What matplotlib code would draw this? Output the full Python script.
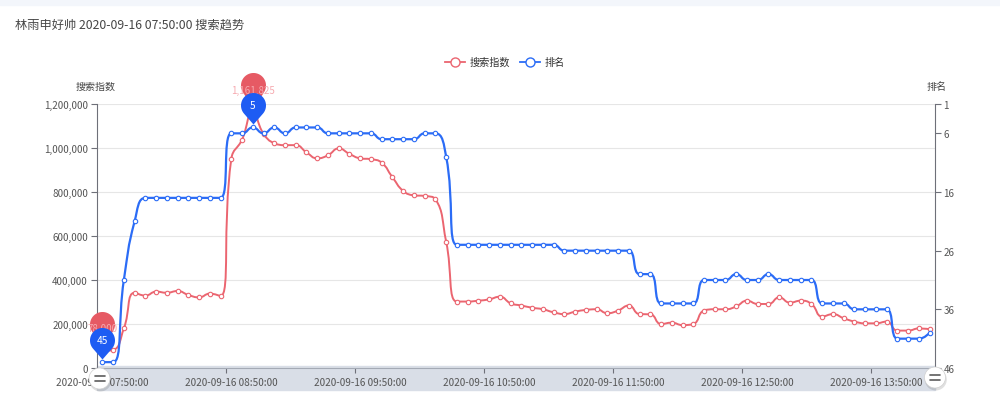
import numpy as np
import pandas as pd
import matplotlib
matplotlib.use("Agg")
import matplotlib.pyplot as plt
from matplotlib.path import Path
from matplotlib.patches import PathPatch, Rectangle, Circle
from matplotlib.lines import Line2D
from matplotlib.ticker import FuncFormatter

plt.rcParams['font.family'] = ['Noto Sans CJK SC', 'DejaVu Sans']

# ---------------- data ----------------
title = "林雨申好帅 2020-09-16 07:50:00 搜索趋势"
series_names = ["搜索指数", "排名"]
times = pd.date_range("2020-09-16 07:50:00", periods=78, freq="5min").strftime("%Y-%m-%d %H:%M:%S").tolist()

search_index = [
    78000, 82000, 180000, 342000, 329000, 347000, 342000, 350000, 332000, 321000,
    338000, 327000, 950000, 1038000, 1161825, 1065000, 1022000, 1013000, 1013000, 980000,
    953000, 967000, 998000, 973000, 953000, 949000, 933000, 867000, 805000, 785000,
    782000, 767000, 574000, 302000, 302000, 306000, 312000, 324000, 294000, 284000,
    274000, 267000, 253000, 245000, 256000, 264000, 267000, 249000, 261000, 284000,
    245000, 244000, 200000, 206000, 195000, 200000, 261000, 267000, 267000, 280000,
    306000, 291000, 291000, 321000, 297000, 306000, 291000, 234000, 245000, 226000,
    211000, 203000, 203000, 211000, 170000, 170000, 180000, 176000,
]
rank = [
    45, 45, 31, 21, 17, 17, 17, 17, 17, 17,
    17, 17, 6, 6, 5, 6, 5, 6, 5, 5,
    5, 6, 6, 6, 6, 6, 7, 7, 7, 7,
    6, 6, 10, 25, 25, 25, 25, 25, 25, 25,
    25, 25, 25, 26, 26, 26, 26, 26, 26, 26,
    30, 30, 35, 35, 35, 35, 31, 31, 31, 30,
    31, 31, 30, 31, 31, 31, 31, 35, 35, 35,
    36, 36, 36, 36, 41, 41, 41, 40,
]
left_ticks = [0, 200000, 400000, 600000, 800000, 1000000, 1200000]
right_ticks = [1, 6, 16, 26, 36, 46]

RED = "#eb6570"
BLUE = "#2b6cf6"
RED_PIN = "#e65a64"
BLUE_PIN = "#1e5cf3"
W, H = 1000, 406


def fx(px):
    return px / W


def fy(py):
    return 1 - py / H


def smooth_path(axis, xs, ys, smooth=0.5):
    # echarts-like smoothing, done in screen space
    pts = axis.transData.transform(np.column_stack([xs, ys]))
    n = len(pts)
    cp_in = [p.copy() for p in pts]
    cp_out = [p.copy() for p in pts]
    for i in range(1, n - 1):
        p, prev, nxt = pts[i], pts[i - 1], pts[i + 1]
        v = nxt - prev
        l0 = np.hypot(*(p - prev))
        l1 = np.hypot(*(nxt - p))
        r = l1 / (l0 + l1)
        cn = p + v * smooth * r
        cn = np.clip(cn, np.minimum(nxt, p), np.maximum(nxt, p))
        vv = cn - p
        cp = p - vv * l0 / l1
        cp = np.clip(cp, np.minimum(prev, p), np.maximum(prev, p))
        vv = p - cp
        cn = p + vv * l1 / l0
        cp_in[i], cp_out[i] = cp, cn
    verts = [pts[0]]
    codes = [Path.MOVETO]
    for i in range(n - 1):
        verts += [cp_out[i], cp_in[i + 1], pts[i + 1]]
        codes += [Path.CURVE4] * 3
    verts = axis.transData.inverted().transform(np.array(verts))
    return Path(verts, codes)


def pin_marker(c, r, tip=3):
    # balloon shape, tip at the origin side, sizes in pixels
    d = c - tip
    b = np.arccos(r / d)
    ang = np.linspace(-np.pi / 2 + b, 3 * np.pi / 2 - b, 60)
    arc = np.column_stack([r * np.cos(ang), c + r * np.sin(ang)])
    verts = np.vstack([[0, tip], arc, [0, tip]])
    codes = [Path.MOVETO] + [Path.LINETO] * len(arc) + [Path.CLOSEPOLY]
    return Path(verts, codes), 2 * (c + r) * 0.72


fig = plt.figure(figsize=(W / 100, H / 100), dpi=100)

# background strip + slider band
bg = fig.add_axes([0, 0, 1, 1], zorder=0)
bg.set_xlim(0, W)
bg.set_ylim(H, 0)
bg.axis("off")
bg.add_patch(Rectangle((0, 0), W, 6, color="#f3f6fb"))
bg.add_patch(Rectangle((97, 367), 838, 24, color="#d9dee7"))

ax = fig.add_axes([fx(97), fy(369), (935 - 97) / W, (369 - 105) / H], zorder=2)
ax.set_facecolor("none")
ax2 = ax.twinx()
ax2.set_zorder(3)

x = np.arange(len(times))
ax.set_xlim(-0.5, len(times) - 0.5)
ax.set_ylim(0, 1200000)
ax2.set_ylim(46, 1)

# lines
ax.add_patch(PathPatch(smooth_path(ax, x, search_index), fill=False, ec=RED, lw=1.4,
                       zorder=3, capstyle="round", joinstyle="round"))
ax.plot(x, search_index, "o", ms=3.2, mfc="white", mec=RED, mew=0.8, zorder=4)
ax2.add_patch(PathPatch(smooth_path(ax2, x, rank), fill=False, ec=BLUE, lw=1.6,
                        zorder=3, capstyle="round", joinstyle="round"))
ax2.plot(x, rank, "o", ms=3.2, mfc="white", mec=BLUE, mew=0.8, zorder=4)

# pins (max / min)
red_pin, red_ms = pin_marker(27, 12.5)
blue_pin, blue_ms = pin_marker(22, 12.5)
i_max = int(np.argmax(search_index))
i_min = int(np.argmin(search_index))
for i in (i_min, i_max):
    ax.plot([i], [search_index[i]], marker=red_pin, ms=red_ms, color=RED_PIN, mew=0,
            zorder=6, clip_on=False)
    ax.annotate(f"{search_index[i]:,}", xy=(i, search_index[i]), xytext=(0, 27 * 0.72 - 3),
                textcoords="offset points", ha="center", va="center", fontsize=7,
                color="#f6aab0", zorder=7, annotation_clip=False)
j_best = int(np.argmin(rank))
j_worst = int(np.argmax(rank))
for j in (j_worst, j_best):
    ax2.plot([j], [rank[j]], marker=blue_pin, ms=blue_ms, color=BLUE_PIN, mew=0,
             zorder=6, clip_on=False)
    ax2.annotate(str(rank[j]), xy=(j, rank[j]), xytext=(0, 22 * 0.72),
                 textcoords="offset points", ha="center", va="center", fontsize=7.3,
                 color="white", zorder=7, annotation_clip=False)

# axes styling
AXC = "#6e7079"
LBL = "#555555"
ax.set_yticks(left_ticks)
ax.yaxis.set_major_formatter(FuncFormatter(lambda v, p: f"{int(v):,}"))
ax.tick_params(axis="y", length=4, width=0.8, color=AXC, labelsize=7.1, labelcolor=LBL, pad=2.5)
ax.yaxis.grid(True, color="#e6e6e6", lw=0.8)
ax.set_axisbelow(True)
ax.set_xticks(x[::12])
ax.set_xticklabels(times[::12])
ax.set_xticks(np.arange(-0.5, len(times), 12), minor=True)
ax.tick_params(axis="x", which="major", length=0, labelsize=7.2, labelcolor=LBL, pad=6.5)
ax.tick_params(axis="x", which="minor", length=3.5, width=0.8, color=AXC)
for s in ("top", "right"):
    ax.spines[s].set_visible(False)
ax.spines["left"].set_color(AXC)
ax.spines["bottom"].set_color("#a4aab5")

ax2.set_yticks(right_ticks)
ax2.tick_params(axis="y", length=4, width=0.8, color=AXC, labelsize=7.1, labelcolor=LBL, pad=2)
for s in ("top", "left", "bottom"):
    ax2.spines[s].set_visible(False)
ax2.spines["right"].set_color(AXC)

# texts
fig.text(fx(15), fy(25), title, ha="left", va="center", fontsize=8.8, color="#464646")
fig.text(fx(96), fy(87), series_names[0], ha="center", va="center", fontsize=7.2, color="#444444")
fig.text(fx(937), fy(87), series_names[1], ha="center", va="center", fontsize=7.2, color="#444444")

handles = [
    Line2D([], [], color=RED, lw=1.3, marker="o", ms=6.5, mfc="white", mec=RED, mew=1),
    Line2D([], [], color=BLUE, lw=1.3, marker="o", ms=6.5, mfc="white", mec=BLUE, mew=1),
]
leg = fig.legend(handles, series_names, loc="center", bbox_to_anchor=(fx(505), fy(63)), ncol=2,
                 frameon=False, fontsize=7.3, handlelength=2.0, handletextpad=0.5,
                 columnspacing=0.9)
for t in leg.get_texts():
    t.set_color("#333333")

# slider handles
fg = fig.add_axes([0, 0, 1, 1], zorder=5)
fg.set_xlim(0, W)
fg.set_ylim(H, 0)
fg.axis("off")
for hx, hy in ((99.5, 379.5), (935, 378.5)):
    fg.add_patch(Circle((hx + 0.8, hy + 2), 11, color="#000000", alpha=0.12, lw=0))
    fg.add_patch(Circle((hx, hy), 10.5, fc="white", ec="#d0d0d0", lw=0.5))
    fg.plot([hx - 5, hx + 5], [hy - 2.3, hy - 2.3], color="#5c5c5c", lw=1.2, solid_capstyle="round")
    fg.plot([hx - 5, hx + 5], [hy + 2.3, hy + 2.3], color="#5c5c5c", lw=1.2, solid_capstyle="round")

fig.savefig("out.png", dpi=100, facecolor="white")
